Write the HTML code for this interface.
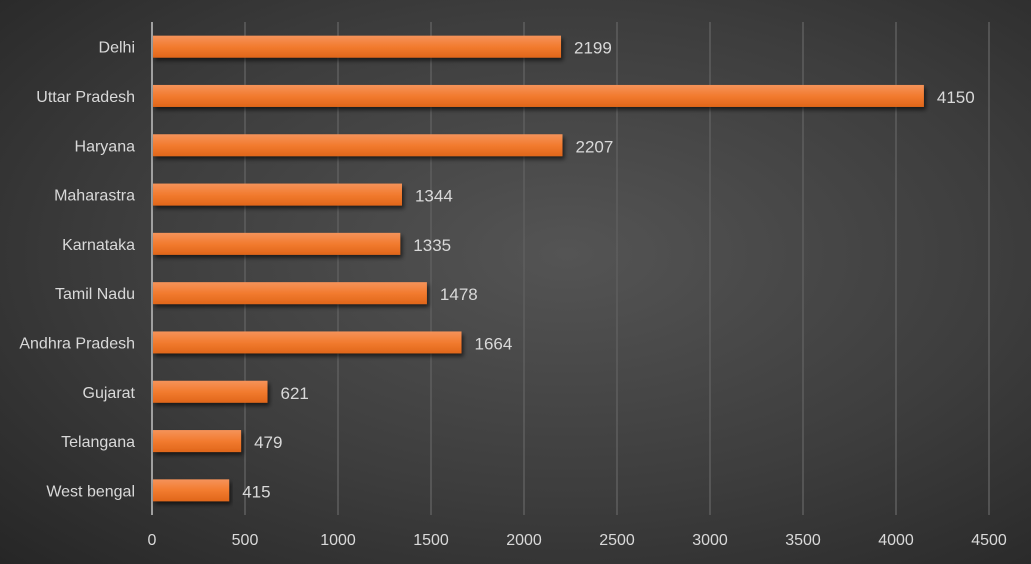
<!DOCTYPE html>
<html><head><meta charset="utf-8"><style>
html,body{margin:0;padding:0;}
body{width:1031px;height:564px;overflow:hidden;background:radial-gradient(ellipse at 55% 45%,#545454 0%,#3d3d3d 55%,#262626 100%);font-family:"Liberation Sans",sans-serif;}
svg{display:block;}
</style></head><body>
<svg id="chart" width="1031" height="564" xmlns="http://www.w3.org/2000/svg">
<defs>
<linearGradient id="barg" x1="0" y1="0" x2="0" y2="1">
<stop offset="0" stop-color="#f5935a"/><stop offset="0.5" stop-color="#f27b2f"/><stop offset="1" stop-color="#e0661a"/>
</linearGradient>
<filter id="sh" x="-5%" y="-20%" width="110%" height="160%"><feDropShadow dx="2" dy="3" stdDeviation="2" flood-color="#000" flood-opacity="0.6"/></filter>
</defs>
<g id="grid"></g>
<g id="bars"></g>
<g id="labels"></g>
</svg>
<script>
const categories=["Delhi","Uttar Pradesh","Haryana","Maharastra","Karnataka","Tamil Nadu","Andhra Pradesh","Gujarat","Telangana","West bengal"];
const values=[2199,4150,2207,1344,1335,1478,1664,621,479,415];
const ticks=[0,500,1000,1500,2000,2500,3000,3500,4000,4500];
(function(){
const NS="http://www.w3.org/2000/svg";
const x0=152,x1=989,plotTop=22,plotBottom=515,maxV=4500;
const xs=v=>x0+(v/maxV)*(x1-x0);
const step=(plotBottom-plotTop)/categories.length;
const yc=i=>plotTop+step*(i+0.5);
function mk(t,a,p){const e=document.createElementNS(NS,t);for(const k in a)e.setAttribute(k,a[k]);p.appendChild(e);return e;}
const grid=document.getElementById('grid'),bars=document.getElementById('bars'),labels=document.getElementById('labels');
ticks.forEach((t,i)=>{
  const l=mk('line',{x1:xs(t),x2:xs(t),y1:plotTop,y2:plotBottom,stroke:i===0?'#a0a0a0':'#5e5e5e','stroke-width':i===0?2:1.5},grid);
  
  
  const tx=mk('text',{x:xs(t),y:545,'text-anchor':'middle',fill:'#d9d9d9','font-size':16},labels);
  tx.textContent=t;
  
  
});
categories.forEach((c,i)=>{
  const y=yc(i);
  const r=mk('rect',{x:x0+1,y:y-11,width:xs(values[i])-x0-1,height:22,fill:'url(#barg)',filter:'url(#sh)'},bars);
  
  
  const cl=mk('text',{x:135,y:y+6,'text-anchor':'end',fill:'#d9d9d9','font-size':16},labels);
  cl.textContent=c;
  
  
  const vl=mk('text',{x:xs(values[i])+13,y:y+7,fill:'#d9d9d9','font-size':17},labels);
  vl.textContent=values[i];
  
  
});
})();
</script>
</body></html>
